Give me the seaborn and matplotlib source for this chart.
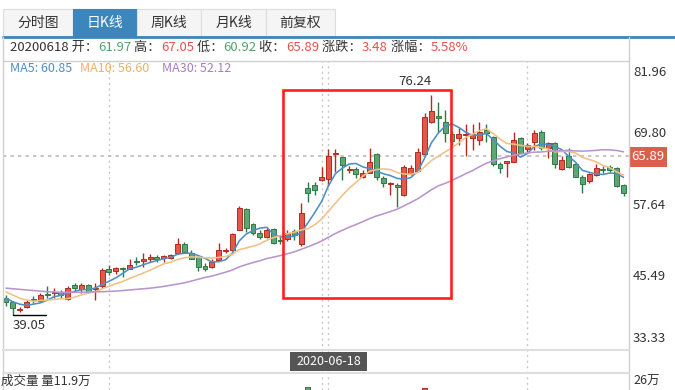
import numpy as np
import pandas as pd
import matplotlib
matplotlib.use('Agg')
import matplotlib.pyplot as plt
import seaborn as sns
from matplotlib.patches import Rectangle

# daily K data
opens = [42.0, 41.3, 39.9, 40.5, 41.8, 41.4, 42.7, 42.8, 43.0, 41.8,
         44.1, 43.5, 44.1, 43.5, 43.9, 46.9, 46.5, 47.0, 46.8, 48.2,
         48.2, 48.6, 48.8, 48.7, 48.7, 49.5, 51.1, 49.5, 48.8, 47.3,
         47.2, 48.4, 49.8, 50.0, 53.5, 56.9, 54.4, 52.9, 52.2, 53.6,
         51.8, 51.9, 53.2, 51.0, 60.5, 61.0, 61.9, 61.97, 66.2, 65.7,
         63.6, 63.8, 62.4, 63.0, 66.2, 62.2, 61.2, 61.0, 59.3, 62.9,
         63.4, 66.2, 71.7, 72.7, 71.7, 69.7, 68.9, 69.4, 68.9, 68.6,
         70.3, 69.1, 64.6, 64.7, 64.9, 68.9, 67.1, 68.3, 70.0, 67.3,
         68.1, 63.7, 66.0, 64.6, 62.3, 61.7, 62.7, 63.8, 64.0, 63.9,
         61.0]
highs = [42.4, 41.4, 40.4, 41.6, 42.3, 42.8, 44.0, 43.6, 43.3, 44.0,
         44.4, 44.5, 44.3, 44.5, 47.0, 47.5, 47.2, 47.2, 48.5, 48.8,
         49.5, 49.4, 49.2, 49.2, 49.4, 52.1, 51.4, 50.0, 49.0, 47.8,
         48.5, 51.2, 50.4, 53.0, 57.4, 57.1, 54.6, 53.4, 53.8, 53.8,
         52.2, 53.5, 53.6, 57.9, 61.5, 61.6, 64.1, 67.05, 67.1, 65.8,
         64.2, 64.0, 63.5, 67.2, 66.4, 62.5, 61.5, 61.4, 64.4, 64.4,
         67.2, 73.2, 76.24, 75.1, 73.7, 70.2, 70.6, 71.4, 71.4, 71.6,
         71.4, 69.3, 64.9, 65.1, 70.0, 69.1, 68.1, 70.3, 70.3, 68.3,
         68.3, 66.0, 67.3, 64.7, 62.7, 63.0, 64.6, 64.3, 64.4, 64.0,
         61.2]
lows = [40.6, 39.05, 39.5, 40.2, 41.1, 41.2, 41.9, 42.0, 41.9, 41.6,
        43.2, 42.8, 42.8, 41.6, 43.6, 45.8, 46.0, 45.5, 46.8, 47.5,
        47.2, 48.0, 48.1, 48.0, 48.5, 49.4, 49.6, 48.5, 46.5, 46.5,
        47.0, 48.4, 49.6, 49.8, 53.4, 53.1, 52.6, 51.9, 52.1, 51.1,
        51.1, 51.6, 51.8, 50.7, 58.1, 59.3, 61.7, 60.92, 63.2, 61.8,
        63.0, 62.2, 62.2, 63.0, 61.9, 60.7, 59.3, 57.3, 59.1, 62.7,
        63.2, 66.1, 71.5, 70.0, 68.3, 67.7, 67.8, 65.9, 66.9, 67.8,
        68.3, 64.2, 63.0, 62.4, 64.9, 66.4, 66.6, 66.9, 66.9, 65.6,
        63.9, 63.5, 63.9, 62.3, 59.7, 61.4, 62.6, 63.0, 63.2, 60.6,
        59.1]
closes = [41.3, 40.2, 40.1, 41.3, 41.6, 42.4, 42.5, 43.0, 42.4, 43.6,
          43.7, 44.1, 43.0, 43.7, 46.6, 46.4, 47.0, 46.8, 47.5, 48.0,
          48.5, 48.9, 48.5, 49.0, 49.2, 51.1, 49.7, 48.5, 47.1, 46.8,
          48.0, 50.0, 50.1, 52.7, 57.2, 53.7, 52.9, 52.2, 53.4, 51.2,
          51.6, 53.0, 52.6, 56.3, 59.7, 60.2, 62.4, 65.89, 66.4, 64.4,
          63.7, 62.9, 63.0, 64.9, 62.4, 61.4, 61.4, 60.6, 64.1, 63.9,
          66.6, 72.5, 73.6, 72.3, 69.8, 68.4, 69.6, 69.6, 69.6, 70.0,
          69.8, 64.6, 63.9, 65.1, 68.6, 66.4, 67.7, 69.8, 67.3, 68.1,
          64.6, 65.2, 64.1, 62.4, 61.2, 62.9, 63.9, 63.6, 63.6, 60.8,
          59.7]

# moving averages before enough closes are on screen
ma5_head = [41.9, 41.3, 40.9, 40.7]
ma10_head = [42.96, 42.45, 41.9, 41.6, 41.4, 41.5, 41.6, 41.7, 41.8]
ma30_head = [43.6, 43.5, 43.4, 43.3, 43.2, 43.1, 43.0, 42.95, 42.9, 42.9,
             42.9, 42.9, 42.95, 43.0, 43.0, 43.05, 43.1, 43.2, 43.3, 43.4,
             43.5, 43.6, 43.75, 43.9, 44.1, 44.3, 44.5, 44.8, 45.1]

y_ticks = [81.96, 69.80, 57.64, 45.49, 33.33]
grid_idx = [15, 46, 76]
sel = 47
vol_idx = [44, 61]
vol_vals = [23.2, 22.8]

RED, RED_E = '#e2584a', '#b32a1f'
GREEN, GREEN_E = '#5ea574', '#2d7a47'
C_MA = {'MA5': '#4d8fc4', 'MA10': '#f0c184', 'MA30': '#b995cf'}
TXT_RED, TXT_GREEN = '#e0544a', '#53a06c'

sns.set_theme(style='white')
plt.rcParams['font.family'] = ['Noto Sans CJK SC', 'DejaVu Sans']

W, H = 675, 390
fig = plt.figure(figsize=(6.75, 3.9), dpi=100)
fig.patch.set_facecolor('white')


def box(l, t, r, b):
    return [l / W, 1 - b / H, (r - l) / W, (b - t) / H]


ax = fig.add_axes(box(3, 61, 629, 349))
ax.set_facecolor('white')
for s in ax.spines.values():
    s.set_visible(False)

df = pd.DataFrame({'o': opens, 'h': highs, 'l': lows, 'c': closes})
df['i'] = np.arange(len(df))
up = df.c >= df.o
for mask, fill, edge in [(up, RED, RED_E), (~up, GREEN, GREEN_E)]:
    d = df[mask]
    ax.vlines(d.i, d.l, d.h, color=edge, lw=1, zorder=2)
    ax.bar(d.i, (d.c - d.o).abs().clip(lower=0.15), bottom=np.minimum(d.o, d.c),
           width=0.72, color=fill, edgecolor=edge, lw=0.7, zorder=3)

ma = pd.DataFrame({'i': df.i})
for n, head in [(5, ma5_head), (10, ma10_head), (30, ma30_head)]:
    s = df.c.rolling(n).mean()
    s.iloc[:n - 1] = head
    ma['MA%d' % n] = s
long = ma.melt('i', var_name='ma', value_name='v')
sns.lineplot(data=long, x='i', y='v', hue='ma', palette=C_MA, lw=1.15,
             ax=ax, legend=False, zorder=4)

ax.set_xlim(-0.44, 90.8)
ax.set_ylim(33.33, 81.96)
ax.set_xticks([])
ax.set_yticks([])
ax.set_xlabel('')
ax.set_ylabel('')

# grid / crosshair
for g in grid_idx + [sel]:
    ax.axvline(g, ymin=-0.142, ymax=1, color='#c8c8c8', lw=1,
               ls=(0, (1.5, 2.5)), clip_on=False, zorder=1)
ax.axhline(closes[sel], color='#bbbbbb', lw=1.2, ls=(0, (2, 2.5)), zorder=1)

# right axis labels
ytr = ax.get_yaxis_transform()
for k, v in enumerate(y_ticks):
    dy = -11 if k == 0 else (11 if k == len(y_ticks) - 1 else 0)
    ax.annotate('%.2f' % v, xy=(1, v), xycoords=ytr, xytext=(4, dy),
                textcoords='offset pixels', ha='left', va='center',
                fontsize=9.5, color='#333333', annotation_clip=False)

# max / min marks
ax.annotate('76.24', xy=(62, highs[62]), xytext=(-16, 13), textcoords='offset pixels',
            ha='center', va='center', fontsize=9.5, color='#333333')
ax.plot([1, 1 + 33 / 6.86], [lows[1], lows[1]], color='black', lw=1, zorder=5)
ax.annotate('39.05', xy=(1, lows[1]), xytext=(0, -4), textcoords='offset pixels',
            ha='left', va='top', fontsize=9.5, color='#333333')

# volume tops peeking at the bottom
axv = fig.add_axes(box(3, 378, 629, 460))
axv.bar(vol_idx, vol_vals, width=0.72,
        color=[GREEN if closes[i] < opens[i] else RED for i in vol_idx],
        edgecolor=[GREEN_E if closes[i] < opens[i] else RED_E for i in vol_idx], lw=0.7)
axv.set_xlim(-0.44, 90.8)
axv.set_ylim(0, 26)
axv.axis('off')

# overlay in pixel coords
ov = fig.add_axes([0, 0, 1, 1], zorder=5)
ov.set_xlim(0, W)
ov.set_ylim(H, 0)
ov.axis('off')
ov.patch.set_alpha(0)

tabs = [('分时图', 3, 73), ('日K线', 73, 137), ('周K线', 137, 201),
        ('月K线', 201, 266), ('前复权', 266, 335)]
for k, (t, l, r) in enumerate(tabs):
    on = k == 1
    ov.add_patch(Rectangle((l, 9), r - l, 27, facecolor='#3d86bb' if on else '#f5f5f5',
                           edgecolor='#3d86bb' if on else '#dcdcdc', lw=0.8))
    ov.text((l + r) / 2, 23, t, ha='center', va='center', fontsize=10,
            color='white' if on else '#333333')
ov.plot([3, W], [36.5, 36.5], color='#3d86bb', lw=2)

ov.plot([3, 629], [61, 61], color='#d0d0d0', lw=1)
ov.plot([629, 629], [37, H], color='#d0d0d0', lw=1)
ov.plot([3, 3], [37, H], color='#d0d0d0', lw=1)
ov.plot([3, 629], [350, 350], color='#dedede', lw=1.5)
ov.plot([3, 629], [373, 373], color='#dedede', lw=1.5)

renderer = fig.canvas.get_renderer()


def seq_text(x, y, parts, size):
    for s, c in parts:
        t = ov.text(x, y, s, color=c, fontsize=size, ha='left', va='center')
        x += t.get_window_extent(renderer=renderer).width


dark = '#333333'
seq_text(10, 47.5, [('20200618 开：', dark), ('61.97', TXT_GREEN), (' 高：', dark),
                    ('67.05', TXT_RED), (' 低：', dark), ('60.92', TXT_GREEN),
                    (' 收：', dark), ('65.89', TXT_RED), (' 涨跌：', dark),
                    ('3.48', TXT_RED), (' 涨幅：', dark), ('5.58%', TXT_RED)], 9.5)

ov.text(10, 69, 'MA5: 60.85', color=C_MA['MA5'], fontsize=9, va='center')
ov.text(80, 69, 'MA10: 56.60', color='#e8b26a', fontsize=9, va='center')
ov.text(162, 69, 'MA30: 52.12', color='#a57fbf', fontsize=9, va='center')

ov.add_patch(Rectangle((629, 147), 38, 20, facecolor='#d9604b', edgecolor='none'))
ov.text(648, 157, '65.89', color='white', fontsize=9.5, ha='center', va='center')

ov.add_patch(Rectangle((290, 352), 77, 19, facecolor='#555555', edgecolor='none'))
ov.text(328.5, 361.5, '2020-06-18', color='white', fontsize=9, ha='center', va='center')

ov.text(1, 381, '成交量 量11.9万', color=dark, fontsize=9, ha='left', va='center')
ov.text(633, 381, '26万', color=dark, fontsize=9, ha='left', va='center')

ov.add_patch(Rectangle((283, 90), 168, 208, facecolor='none', edgecolor='#ff1f1f', lw=1.9))

fig.savefig('out.png', dpi=100)
